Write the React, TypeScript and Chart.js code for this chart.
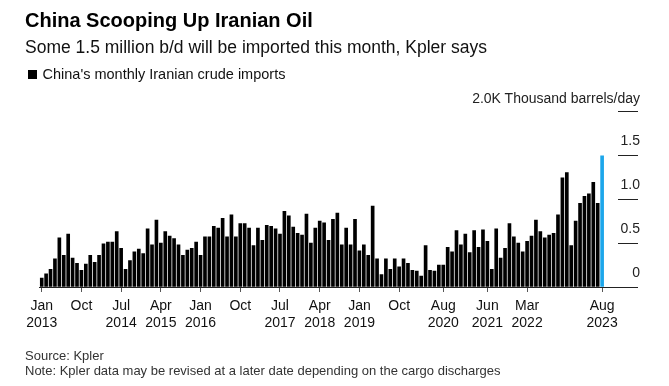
import React, { useEffect, useRef } from 'react';
import { Chart, registerables } from 'chart.js';

Chart.register(...registerables);

// Monthly categories Jan 2013 – Aug 2023
const months: string[] = [];
for (let y = 2013; y <= 2023; y++) {
  for (let m = 1; m <= 12; m++) {
    if (y === 2023 && m > 8) break;
    months.push(`${y}-${String(m).padStart(2, '0')}`);
  }
}

// China's monthly Iranian crude imports (million b/d)
const imports: number[] = [
  0.10, 0.15, 0.20, 0.32, 0.56, 0.36, 0.60, 0.33, 0.27, 0.19, 0.26, 0.36,
  0.28, 0.36, 0.49, 0.51, 0.51, 0.63, 0.44, 0.20, 0.30, 0.40, 0.43, 0.38,
  0.66, 0.48, 0.76, 0.50, 0.63, 0.58, 0.55, 0.48, 0.36, 0.42, 0.44, 0.51,
  0.36, 0.57, 0.57, 0.69, 0.67, 0.78, 0.57, 0.82, 0.57, 0.72, 0.72, 0.67,
  0.47, 0.67, 0.53, 0.70, 0.69, 0.66, 0.60, 0.86, 0.81, 0.68, 0.61, 0.59,
  0.83, 0.50, 0.67, 0.75, 0.73, 0.53, 0.77, 0.84, 0.48, 0.67, 0.48, 0.77,
  0.41, 0.48, 0.36, 0.92, 0.32, 0.14, 0.32, 0.20, 0.32, 0.23, 0.32, 0.27,
  0.19, 0.18, 0.125, 0.47, 0.19, 0.18, 0.25, 0.25, 0.45, 0.40, 0.64, 0.48,
  0.60, 0.39, 0.64, 0.45, 0.65, 0.52, 0.20, 0.66, 0.33, 0.44, 0.72, 0.57,
  0.50, 0.40, 0.52, 0.58, 0.76, 0.63, 0.56, 0.59, 0.61, 0.82, 1.24, 1.30,
  0.47, 0.75, 0.95, 1.03, 1.06, 1.19, 0.95, 1.49,
];

// X-axis tick labels
const tickMonths: string[] = [
  '2013-01', '2013-10', '2014-07', '2015-04', '2016-01', '2016-10', '2017-07',
  '2018-04', '2019-01', '2019-10', '2020-08', '2021-06', '2022-03', '2023-08',
];
const tickText: string[][] = [
  ['Jan', '2013'], ['Oct'], ['Jul', '2014'], ['Apr', '2015'], ['Jan', '2016'], ['Oct'],
  ['Jul', '2017'], ['Apr', '2018'], ['Jan', '2019'], ['Oct'], ['Aug', '2020'],
  ['Jun', '2021'], ['Mar', '2022'], ['Aug', '2023'],
];

// Y-axis tick labels (top tick carries the unit label, drawn as text above the axis)
const yTicks: number[] = [0, 0.5, 1, 1.5, 2];
const yTickText: string[] = ['0', '0.5', '1.0', '1.5', ''];
const yUnitLabel = '2.0K Thousand barrels/day';

const FONT = "'Liberation Sans', Arial, sans-serif";
const BLACK = '#000000';
const BLUE = '#1ca6ea';

export default function App() {
  const ref = useRef<HTMLCanvasElement | null>(null);

  useEffect(() => {
    if (!ref.current) return;
    const tickIdx = tickMonths.map((m) => months.indexOf(m));
    const chart = new Chart(ref.current, {
      type: 'bar',
      data: {
        datasets: [
          {
            data: imports.map((v, i) => ({ x: i, y: v })),
            backgroundColor: imports.map((_, i) => (i === imports.length - 1 ? BLUE : BLACK)),
            borderWidth: 0,
            barThickness: 3,
          } as any,
        ],
      },
      options: {
        animation: false,
        responsive: false,
        maintainAspectRatio: false,
        layout: { padding: { left: 39.5, right: 29, top: 111, bottom: 54 } },
        plugins: { legend: { display: false }, tooltip: { enabled: false } },
        scales: {
          x: {
            type: 'linear',
            min: -0.5,
            max: 130.6,
            offset: false,
            afterBuildTicks: (s: any) => {
              s.ticks = tickIdx.map((v) => ({ value: v }));
            },
            afterFit: (s: any) => {
              s.height = 45;
            },
            ticks: {
              autoSkip: false,
              maxRotation: 0,
              minRotation: 0,
              padding: 5,
              color: '#111',
              font: { family: FONT, size: 14, lineHeight: 1.25 },
              callback: (v: any) => {
                const k = tickIdx.indexOf(Number(v));
                return k >= 0 ? tickText[k] : '';
              },
            },
            grid: {
              display: true,
              drawOnChartArea: false,
              drawTicks: true,
              tickLength: 5,
              color: '#555',
              offset: false,
            },
            border: { display: true, color: '#222', width: 1 },
          },
          y: {
            position: 'right',
            min: 0,
            max: 2,
            afterBuildTicks: (s: any) => {
              s.ticks = yTicks.map((v) => ({ value: v }));
            },
            afterFit: (s: any) => {
              s.width = 22;
            },
            ticks: {
              padding: 0,
              labelOffset: -13.5,
              crossAlign: 'far',
              color: '#222',
              font: { family: FONT, size: 14 },
              callback: (v: any) => {
                const k = yTicks.indexOf(Number(v));
                return k >= 0 ? yTickText[k] : '';
              },
            },
            grid: {
              display: true,
              drawOnChartArea: false,
              drawTicks: true,
              tickLength: 20,
              color: '#222',
            },
            border: { display: false },
          },
        },
      } as any,
    });
    return () => chart.destroy();
  }, []);

  const base: React.CSSProperties = {
    position: 'absolute',
    fontFamily: FONT,
    lineHeight: 1,
    whiteSpace: 'nowrap',
    margin: 0,
  };

  return (
    <div
      style={{
        position: 'fixed',
        left: 0,
        top: 0,
        width: 669,
        height: 386,
        background: '#fff',
        overflow: 'hidden',
      }}
    >
      <canvas ref={ref} width={669} height={386} style={{ position: 'absolute', left: 0, top: 0, width: 669, height: 386 }} />
      <div style={{ ...base, left: 25, top: 10, fontSize: 20, fontWeight: 700, color: '#000' }}>
        China Scooping Up Iranian Oil
      </div>
      <div style={{ ...base, left: 25, top: 38.7, fontSize: 17.5, color: '#111' }}>
        Some 1.5 million b/d will be imported this month, Kpler says
      </div>
      <div style={{ ...base, left: 27.5, top: 69.5, width: 9, height: 9, background: '#000' }} />
      <div style={{ ...base, left: 42.5, top: 66.7, fontSize: 14.5, color: '#111' }}>
        China's monthly Iranian crude imports
      </div>
      <div style={{ ...base, right: 29, top: 90.6, fontSize: 14, color: '#222', textAlign: 'right' }}>
        {yUnitLabel}
      </div>
      <div style={{ ...base, left: 25, top: 349, fontSize: 13, color: '#333' }}>Source: Kpler</div>
      <div style={{ ...base, left: 25, top: 364, fontSize: 13, color: '#333' }}>
        Note: Kpler data may be revised at a later date depending on the cargo discharges
      </div>
    </div>
  );
}
